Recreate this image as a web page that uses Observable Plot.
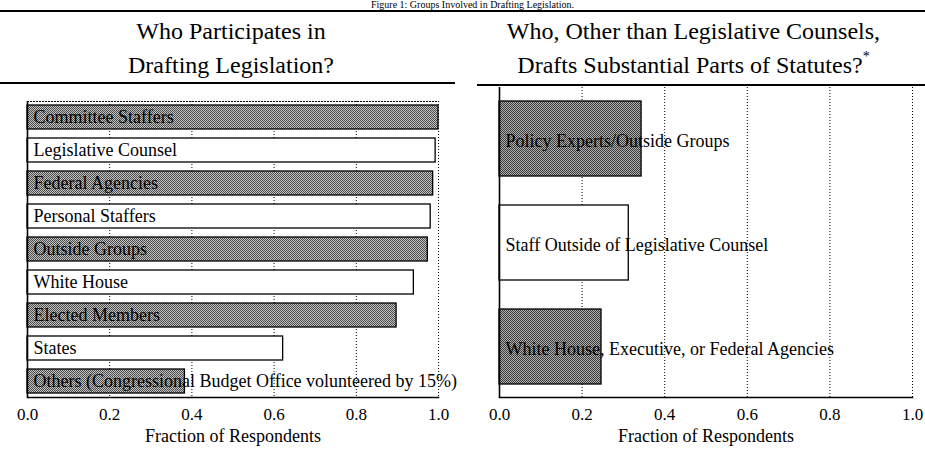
<!DOCTYPE html>
<html>
<head>
<meta charset="utf-8">
<script src="https://cdn.jsdelivr.net/npm/d3@7"></script>
<script src="https://cdn.jsdelivr.net/npm/@observablehq/plot@0.6"></script>
<style>
  html, body { margin: 0; padding: 0; background: white; }
  #page { position: relative; width: 925px; height: 450px; overflow: hidden; background: white;
          font-family: "Liberation Serif", "Times New Roman", serif; color: black; }
  .abs { position: absolute; }
  .rule { position: absolute; background: black; }
  .sub { position: absolute; text-align: center; font-size: 24px; line-height: 34px; white-space: nowrap; }
  .sub sup { font-size: 14px; vertical-align: 0; position: relative; top: -12px; }
  #title { position: absolute; left: 0; width: 925px; top: 0px; text-align: center; font-size: 10px; line-height: 10px; white-space: nowrap; }
  #title span { position: relative; left: 10px; }
</style>
</head>
<body>
<div id="page">
  <div id="left" class="abs" style="left:0; top:84px;"></div>
  <div id="right" class="abs" style="left:462px; top:84px;"></div>
  <div id="title"><span>Figure 1: Groups Involved in Drafting Legislation.</span></div>
  <div class="rule" style="left:0; top:10px; width:925px; height:2px;"></div>
  <div class="sub" style="left:0; top:14px; width:462px;">Who Participates in<br>Drafting Legislation?</div>
  <div class="sub" style="left:462px; top:14px; width:463px;">Who, Other than Legislative Counsels,<br>Drafts Substantial Parts of Statutes?<sup>*</sup></div>
  <div class="rule" style="left:0; top:82px; width:455px; height:2px;"></div>
  <div class="rule" style="left:477px; top:84px; width:448px; height:2px;"></div>
</div>
<script>
// ---- data ----
const leftCategories = [
  "Committee Staffers",
  "Legislative Counsel",
  "Federal Agencies",
  "Personal Staffers",
  "Outside Groups",
  "White House",
  "Elected Members",
  "States",
  "Others (Congressional Budget Office volunteered by 15%)"
];
const leftValues = [1.0, 0.993, 0.987, 0.981, 0.974, 0.94, 0.898, 0.622, 0.383];

const rightCategories = [
  "Policy Experts/Outside Groups",
  "Staff Outside of Legislative Counsel",
  "White House, Executive, or Federal Agencies"
];
const rightValues = [0.344, 0.313, 0.247];

const xTicks = [0, 0.2, 0.4, 0.6, 0.8, 1.0];
const gridTicks = [0.2, 0.4, 0.6, 0.8, 1.0];
const axisLabel = ["Fraction of Respondents"];

const leftData = leftCategories.map((c, i) => ({category: c, value: leftValues[i], shaded: i % 2 === 0}));
const rightData = rightCategories.map((c, i) => ({category: c, value: rightValues[i], shaded: i % 2 === 0}));

const font = "'Liberation Serif', 'Times New Roman', serif";

function panel(data, categories, opts) {
  const svg = Plot.plot({
    width: opts.width,
    height: 366,
    marginTop: opts.marginTop,
    marginBottom: 53,
    marginLeft: opts.marginLeft,
    marginRight: opts.marginRight,
    style: {fontFamily: font, fontSize: "17px", background: "transparent", color: "black", overflow: "visible"},
    x: {domain: [0, 1]},
    y: {domain: categories, paddingInner: opts.paddingInner, paddingOuter: opts.paddingOuter, axis: null},
    color: {type: "identity"},
    marks: [
      Plot.ruleX(gridTicks, {stroke: "black", strokeDasharray: "1,2", strokeWidth: 1}),
      ...(opts.topDotted ? [Plot.frame({anchor: "top", stroke: "black", strokeDasharray: "1,2"})] : []),
      Plot.barX(data, {
        x: "value", y: "category",
        fill: d => d.shaded ? `url(#${opts.patternId})` : "white",
        stroke: "black", strokeWidth: 1.3
      }),
      Plot.text(data, {
        x: 0, y: "category", text: "category", textAnchor: "start",
        dx: 6, dy: opts.labelDy, fontSize: 18, fill: "black"
      }),
      Plot.ruleX([0], {stroke: "black", strokeWidth: 1.6}),
      Plot.frame({anchor: "bottom", stroke: "black", strokeWidth: 1.6}),
      Plot.axisX(xTicks, {tickSize: 0, tickPadding: 10, tickFormat: d3.format(".1f"), fontSize: 17, label: null}),
      Plot.text(axisLabel, {frameAnchor: "bottom", dy: 44, fontSize: 18, text: d => d, fill: "black"})
    ]
  });
  // halftone-like fill pattern for the shaded bars
  const defs = d3.select(svg).insert("defs", ":first-child");
  const p = defs.append("pattern")
    .attr("id", opts.patternId)
    .attr("width", 2).attr("height", 2)
    .attr("patternUnits", "userSpaceOnUse");
  p.append("rect").attr("width", 2).attr("height", 2).attr("fill", opts.light);
  p.append("rect").attr("width", 1).attr("height", 1).attr("fill", opts.dark);
  p.append("rect").attr("x", 1).attr("y", 1).attr("width", 1).attr("height", 1).attr("fill", opts.dark);
  return svg;
}

document.getElementById("left").append(panel(leftData, leftCategories, {
  width: 462, marginTop: 17, marginLeft: 27, marginRight: 24,
  paddingInner: 0.27, paddingOuter: 0.11, patternId: "ditherL", dark: "#4a4a4a", light: "#c4c4c4",
  labelDy: 0, topDotted: true
}));
document.getElementById("right").append(panel(rightData, rightCategories, {
  width: 463, marginTop: 3, marginLeft: 37, marginRight: 13,
  paddingInner: 0.28, paddingOuter: 0.13, patternId: "ditherR", dark: "#3a3a3a", light: "#b0b0b0",
  labelDy: 2, topDotted: false
}));
</script>
</body>
</html>
